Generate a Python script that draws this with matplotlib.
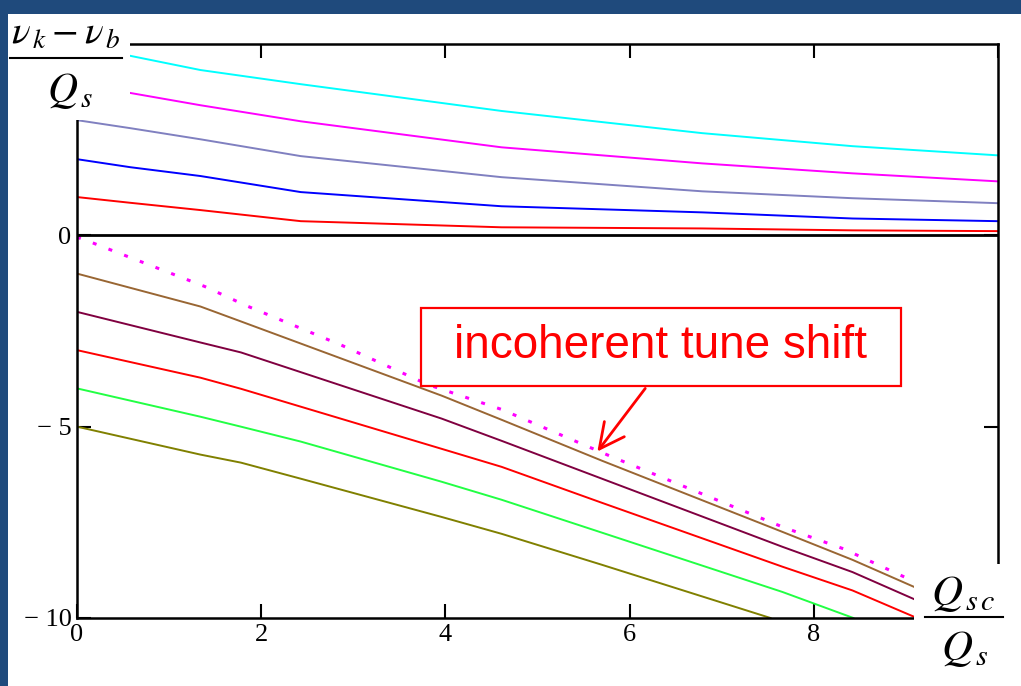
import numpy as np
import matplotlib.pyplot as plt
from matplotlib.patches import Rectangle
from matplotlib.lines import Line2D

plt.rcParams['mathtext.fontset'] = 'stix'
plt.rcParams['font.family'] = ['Liberation Serif', 'DejaVu Serif']

# upper family (k > 0)
x_up = [0, 0.58, 1.34, 2.43, 4.61, 6.79, 8.42, 10]
cyan_y = [5.0, 4.69, 4.32, 3.95, 3.25, 2.67, 2.33, 2.09]
mag_y = [4.0, 3.72, 3.40, 2.98, 2.30, 1.88, 1.62, 1.41]
slate_y = [3.01, 2.80, 2.51, 2.07, 1.52, 1.15, 0.97, 0.84]
blue_y = [1.99, 1.78, 1.55, 1.13, 0.76, 0.60, 0.44, 0.37]
red_up_y = [1.0, 0.85, 0.66, 0.37, 0.21, 0.18, 0.13, 0.11]

# lower family (k < 0)
x_low = [0, 1.34, 1.78, 3.96, 4.61, 5.70, 7.66, 8.42, 9.12, 10]
brown_y = [-1.0, -1.86, -2.25, -4.19, -4.82, -5.89, -7.75, -8.48, -9.22, -10.1]
plum_y = [-2.0, -2.80, -3.06, -4.79, -5.37, -6.36, -8.14, -8.80, -9.54, -10.4]
red_low_x = [0, 1.34, 1.78, 3.96, 4.61, 5.70, 7.66, 8.42, 9.12]
red_low_y = [-3.0, -3.72, -4.01, -5.58, -6.05, -6.99, -8.66, -9.28, -10.0]
green_x = [0, 1.34, 1.78, 2.43, 3.96, 4.61, 5.70, 7.66, 8.43]
green_y = [-4.0, -4.74, -5.0, -5.39, -6.44, -6.91, -7.77, -9.32, -10.0]
olive_x = [0, 1.34, 1.78, 2.43, 3.96, 4.61, 5.70, 7.53]
olive_y = [-5.0, -5.73, -5.94, -6.36, -7.36, -7.80, -8.61, -10.0]

# incoherent tune shift (dotted)
inc_x = [0, 0.12, 1.39, 1.83, 2.88, 3.81, 4.61, 5.78, 7.66, 8.32, 9.12, 10]
inc_y = [-0.05, -0.15, -1.34, -1.83, -2.88, -3.90, -4.55, -5.76, -7.62, -8.19, -9.08, -10.0]

fig = plt.figure(figsize=(10.21, 6.86), dpi=100)
fig.patch.set_facecolor('#1f4a7c')
W, H = 1021, 686
fig.patches.append(Rectangle((8 / W, 0), 1, 1 - 14 / H, transform=fig.transFigure,
                             facecolor='white', edgecolor='none', zorder=-5))

ax = fig.add_axes([77 / W, 1 - 618 / H, (998 - 77) / W, (618 - 44) / H])
ax.set_facecolor('white')

lw = 1.4
ax.plot(x_up, cyan_y, color='#00ffff', lw=lw)
ax.plot(x_up, mag_y, color='#ff00ff', lw=lw)
ax.plot(x_up, slate_y, color='#8080c0', lw=lw)
ax.plot(x_up, blue_y, color='#0000ff', lw=lw)
ax.plot(x_up, red_up_y, color='#ff0000', lw=lw)

ax.plot(x_low, brown_y, color='#996633', lw=lw)
ax.plot(x_low, plum_y, color='#800040', lw=lw)
ax.plot(red_low_x, red_low_y, color='#ff0000', lw=lw)
ax.plot(green_x, green_y, color='#22ff44', lw=lw)
ax.plot(olive_x, olive_y, color='#808000', lw=lw)
ax.plot(inc_x, inc_y, color='#ff00ff', lw=2.2, linestyle=(0, (1.3, 4.2)))

ax.axhline(0, color='black', lw=2)

ax.set_xlim(0, 10)
ax.set_ylim(-10, 5)
ax.set_xticks([0, 2, 4, 6, 8, 10])
# the "10" label is hidden under the Q_sc/Q_s label in the original
ax.set_xticklabels(['0', '2', '4', '6', '8', ''])
ax.set_yticks([-10, -5, 0])
ax.set_yticklabels(['\u2212 10', '\u2212 5', '0'])
ax.tick_params(direction='in', length=10, width=1.5, labelsize=19, pad=4,
               top=True, right=True, colors='black')
for s in ax.spines.values():
    s.set_linewidth(1.8)
    s.set_color('black')

# annotation box and arrow
ax.add_patch(Rectangle((3.73, -3.93), 8.95 - 3.73, 3.93 - 1.91, fill=False,
                       edgecolor='#ff0000', lw=1.6, zorder=5))
ax.text((3.73 + 8.95) / 2, -2.9, 'incoherent tune shift', color='#ff0000',
        fontsize=33, family=['Liberation Sans', 'DejaVu Sans'],
        ha='center', va='center', zorder=6)
ax.annotate('', xy=(5.65, -5.65), xytext=(6.17, -4.0),
            arrowprops=dict(arrowstyle='->, head_length=0.9, head_width=0.45',
                            color='#ff0000', lw=2, mutation_scale=20,
                            shrinkA=0, shrinkB=0), zorder=6)

# axis labels sit on white blocks over the corners
fig.patches.append(Rectangle((8 / W, 1 - 120 / H), (130 - 8) / W, (120 - 14) / H,
                             transform=fig.transFigure, facecolor='white',
                             edgecolor='none', zorder=3))
fig.patches.append(Rectangle((914 / W, 0), (1009 - 914) / W, (686 - 564) / H,
                             transform=fig.transFigure, facecolor='white',
                             edgecolor='none', zorder=3))

# y label: (nu_k - nu_b) / Q_s
fig.text(66 / W, 1 - 44 / H, r'$\nu_{\,k}-\nu_{\,b}$', fontsize=28,
         ha='center', va='baseline', zorder=4)
fig.lines.append(Line2D([10 / W, 122 / W], [1 - 58 / H, 1 - 58 / H],
                        transform=fig.transFigure, color='black', lw=1.5, zorder=4))
fig.text(70 / W, 1 - 102 / H, r'$Q_{\,s}$', fontsize=30,
         ha='center', va='baseline', zorder=4)

# x label: Q_sc / Q_s
fig.text(963 / W, 1 - 605 / H, r'$Q_{\,s\,c}$', fontsize=31,
         ha='center', va='baseline', zorder=4)
fig.lines.append(Line2D([925 / W, 1003 / W], [1 - 617 / H, 1 - 617 / H],
                        transform=fig.transFigure, color='black', lw=1.5, zorder=4))
fig.text(965 / W, 1 - 660 / H, r'$Q_{\,s}$', fontsize=31,
         ha='center', va='baseline', zorder=4)

fig.savefig('out.png', dpi=100, facecolor=fig.get_facecolor())
